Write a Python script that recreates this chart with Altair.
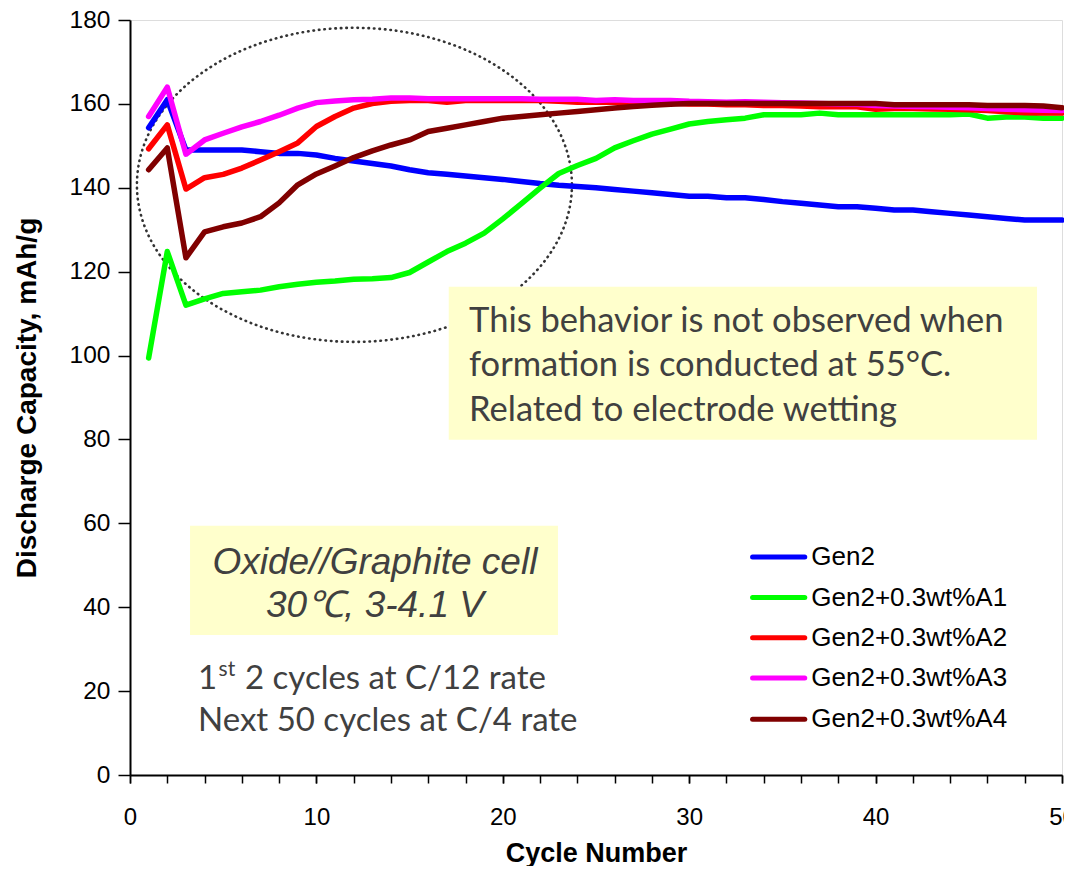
import altair as alt
import pandas as pd

cycles = list(range(1, 51))
series_names = ["Gen2", "Gen2+0.3wt%A1", "Gen2+0.3wt%A2", "Gen2+0.3wt%A3", "Gen2+0.3wt%A4"]
series_colors = ["#0000FF", "#00FF00", "#FF0000", "#FF00FF", "#800000"]

gen2 = [154.3, 161.0, 149.0, 149.0, 149.0, 149.0, 148.6, 148.2, 148.2, 147.8,
        147.0, 146.4, 145.8, 145.2, 144.3, 143.6, 143.2, 142.8, 142.4, 142.0,
        141.5, 141.0, 140.6, 140.3, 140.0, 139.6, 139.2, 138.8, 138.4, 138.0,
        138.0, 137.6, 137.6, 137.2, 136.7, 136.3, 135.9, 135.5, 135.5, 135.1,
        134.7, 134.7, 134.3, 133.9, 133.5, 133.1, 132.7, 132.3, 132.3, 132.3]
a1 = [99.4, 124.8, 112.0, 113.5, 114.8, 115.2, 115.6, 116.4, 117.0, 117.5,
      117.8, 118.2, 118.3, 118.6, 119.8, 122.3, 124.8, 126.8, 129.2, 132.6,
      136.2, 139.9, 143.4, 145.3, 147.0, 149.5, 151.2, 152.8, 154.0, 155.2,
      155.8, 156.2, 156.6, 157.4, 157.4, 157.4, 157.8, 157.4, 157.4, 157.4,
      157.4, 157.4, 157.4, 157.4, 157.6, 156.6, 156.9, 156.9, 156.6, 156.6]
a2 = [149.3, 155.0, 139.7, 142.4, 143.2, 144.7, 146.6, 148.6, 150.7, 154.6,
      157.0, 159.0, 160.1, 160.6, 160.8, 160.8, 160.4, 160.8, 160.8, 160.8,
      160.8, 160.8, 160.6, 160.4, 160.4, 160.4, 160.2, 160.2, 160.2, 160.0,
      160.0, 159.8, 159.8, 159.6, 159.6, 159.5, 159.3, 159.3, 159.3, 158.7,
      158.9, 158.9, 158.8, 158.7, 158.6, 158.4, 158.1, 157.9, 157.8, 157.8]
a3 = [157.0, 164.0, 148.0, 151.4, 153.0, 154.5, 155.8, 157.3, 159.0, 160.3,
      160.7, 161.0, 161.1, 161.4, 161.4, 161.2, 161.2, 161.2, 161.2, 161.2,
      161.2, 161.1, 161.1, 161.1, 160.8, 161.0, 160.8, 160.8, 160.8, 160.6,
      160.5, 160.4, 160.5, 160.4, 160.3, 160.2, 160.1, 160.0, 159.9, 159.6,
      159.5, 159.4, 159.3, 159.2, 159.1, 158.9, 158.7, 158.6, 158.5, 158.4]
a4 = [144.3, 149.5, 123.3, 129.5, 130.7, 131.6, 133.1, 136.4, 140.7, 143.3,
      145.2, 147.2, 148.8, 150.2, 151.4, 153.4, 154.2, 155.0, 155.8, 156.6,
      157.0, 157.4, 157.8, 158.2, 158.6, 159.0, 159.4, 159.7, 159.9, 160.1,
      160.1, 160.1, 160.1, 160.1, 160.1, 160.1, 160.1, 160.1, 160.1, 160.1,
      159.8, 159.8, 159.8, 159.8, 159.8, 159.6, 159.6, 159.6, 159.5, 159.1]

x_ticks = list(range(0, 51, 2))
x_labels = list(range(0, 51, 10))
y_ticks = list(range(0, 181, 20))

# annotation data (in data units)
box_x1 = [17.1, 3.22]
box_x2 = [48.66, 22.96]
box_y1 = [116.4, 59.4]
box_y2 = [79.9, 33.4]

note1_lines = ["This behavior is not observed when",
               "formation is conducted at 55°C.",
               "Related to electrode wetting"]
note1_x = [18.19, 18.19, 18.19]
note1_y = [108.0, 97.4, 86.8]

note2_lines = ["Oxide//Graphite cell", "30℃, 3-4.1 V"]
note2_x = [13.14, 13.14]
note2_y = [50.6, 40.2]

rate_lines = ["1", "2 cycles at C/12 rate", "Next 50 cycles at C/4 rate"]
rate_x = [3.65, 6.17, 3.65]
rate_y = [23.0, 23.0, 12.9]
sup_text = ["st"]
sup_x = [4.75]
sup_y = [25.0]

ellipse_cx = [12.04]
ellipse_cy = [140.7]

legend_y = [52.0, 42.3, 32.7, 23.1, 13.3]
legend_x1 = 33.4
legend_x2 = 36.2
legend_tx = 36.55

rows = []
for name, vals in zip(series_names, [gen2, a1, a2, a3, a4]):
    for c, v in zip(cycles, vals):
        rows.append({"cycle": c, "cap": v, "series": name})
df = pd.DataFrame(rows)

xs = alt.Scale(domain=[0, 50], nice=False, zero=False)
ys = alt.Scale(domain=[0, 180], nice=False)
cs = alt.Scale(domain=series_names, range=series_colors)

FONT = "Liberation Sans"
CAL = "Lato"


def X(field):
    return alt.X(field, scale=xs, axis=None)


def Y(field):
    return alt.Y(field, scale=ys, axis=None)


lines = alt.Chart(df).mark_line(strokeWidth=5.5, strokeCap="round", strokeJoin="round").encode(
    x=alt.X("cycle:Q", scale=xs, axis=alt.Axis(
        title="Cycle Number", values=x_labels, labelOverlap=False, grid=False,
        tickSize=8, labelPadding=22, labelFont=FONT,
        labelFontSize=24, labelColor="black", domainColor="black", tickColor="black",
        domainWidth=2, tickWidth=1.5,
        titleFont=FONT, titleFontSize=27, titleFontWeight="bold", titleColor="black",
        titleX=466, titleY=78, titleBaseline="middle", labelFlush=False)),
    y=alt.Y("cap:Q", scale=ys, axis=alt.Axis(
        title="Discharge Capacity, mAh/g", values=y_ticks, grid=False, tickSize=12,
        labelPadding=8, labelFont=FONT, labelFontSize=24.5, labelColor="black",
        labelOverlap=False, domainColor="black", tickColor="black", domainWidth=2,
        tickWidth=1.5, titleFont=FONT, titleFontSize=28, titleFontWeight="bold",
        titleColor="black", titleX=-103, titleY=377.5, titleBaseline="middle",
        titleAngle=270, labelFlush=False)),
    color=alt.Color("series:N", scale=cs, legend=None),
    order=alt.Order("cycle:Q"),
)

# minor ticks every 2 cycles (second bottom axis without labels)
minor = alt.Chart(pd.DataFrame({"t": x_ticks})).mark_tick(opacity=0).encode(
    x=alt.X("t:Q", scale=xs, axis=alt.Axis(
        title=None, values=x_ticks, labels=False, grid=False, tickSize=8,
        tickColor="black", tickWidth=1.5, domain=False, orient="bottom")))

ell_df = pd.DataFrame({"cx": ellipse_cx, "cy": ellipse_cy})
b = 0.722
k = 0.5523
kb = round(k * b, 4)
ell_path = (f"M 1 0 C 1 {kb} {k} {b} 0 {b} C {-k} {b} -1 {kb} -1 0 "
            f"C -1 {-kb} {-k} {-b} 0 {-b} C {k} {-b} 1 {-kb} 1 0 Z")
ellipse = alt.Chart(ell_df).mark_point(
    shape=ell_path, size=435 * 435, filled=False, stroke="#333333", strokeWidth=2.6,
    strokeDash=[0.5, 5.0], strokeCap="round", opacity=1).encode(
    x=X("cx:Q"), y=Y("cy:Q"))

box_df = pd.DataFrame({"x1": box_x1, "x2": box_x2, "y1": box_y1, "y2": box_y2})
boxes = alt.Chart(box_df).mark_rect(fill="#FFFFCC").encode(
    x=X("x1:Q"), x2="x2:Q", y=Y("y1:Q"), y2="y2:Q")

n1 = alt.Chart(pd.DataFrame({"x": note1_x, "y": note1_y, "t": note1_lines})).mark_text(
    align="left", baseline="middle", font=CAL, fontSize=34.5, color="#404040").encode(
    x=X("x:Q"), y=Y("y:Q"), text="t:N")

n2 = alt.Chart(pd.DataFrame({"x": note2_x, "y": note2_y, "t": note2_lines})).mark_text(
    align="center", baseline="middle", font=FONT, fontSize=37, fontStyle="italic",
    color="#404040").encode(
    x=X("x:Q"), y=Y("y:Q"), text="t:N")

n3 = alt.Chart(pd.DataFrame({"x": rate_x, "y": rate_y, "t": rate_lines})).mark_text(
    align="left", baseline="middle", font=CAL, fontSize=33, color="#404040").encode(
    x=X("x:Q"), y=Y("y:Q"), text="t:N")

n4 = alt.Chart(pd.DataFrame({"x": sup_x, "y": sup_y, "t": sup_text})).mark_text(
    align="left", baseline="middle", font=CAL, fontSize=21, color="#404040").encode(
    x=X("x:Q"), y=Y("y:Q"), text="t:N")

leg_df = pd.DataFrame({"series": series_names, "y": legend_y,
                       "x1": [legend_x1] * 5, "x2": [legend_x2] * 5, "tx": [legend_tx] * 5})
leg_lines = alt.Chart(leg_df).mark_rule(strokeWidth=5, strokeCap="round").encode(
    x=X("x1:Q"), x2="x2:Q", y=Y("y:Q"),
    color=alt.Color("series:N", scale=cs, legend=None))
leg_text = alt.Chart(leg_df).mark_text(
    align="left", baseline="middle", font=FONT, fontSize=26, color="black").encode(
    x=X("tx:Q"), y=Y("y:Q"), text="series:N")

chart = alt.layer(ellipse, boxes, lines, minor, n1, n2, n3, n4, leg_lines, leg_text).resolve_axis(
    x="independent", y="independent"
).properties(
    width=932, height=755,
    autosize=alt.AutoSizeParams(type="none"),
    padding={"left": 122, "top": 12, "right": 2, "bottom": 91},
).configure_view(stroke="#999999", strokeWidth=2).configure(background="white")

chart.save("out.html", embed_options={"renderer": "svg", "actions": False})
